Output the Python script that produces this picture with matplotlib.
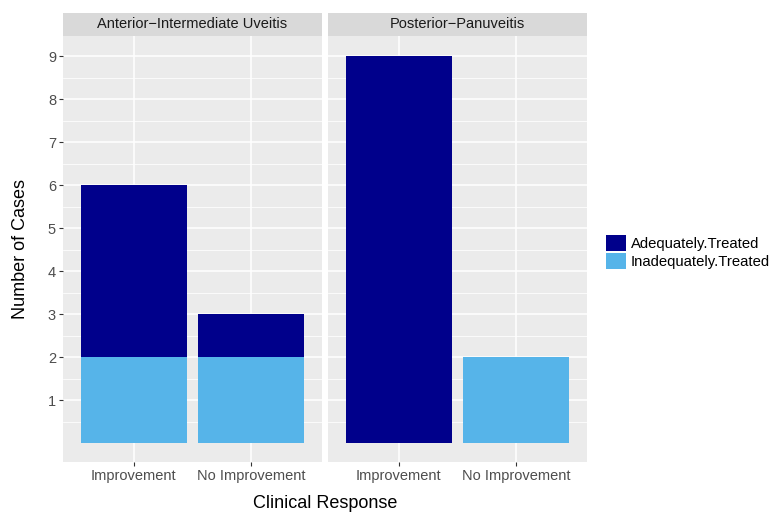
import matplotlib
matplotlib.use('Agg')
import matplotlib.pyplot as plt
from matplotlib.patches import Patch
import numpy as np

plt.rcParams['font.family'] = ['Liberation Sans', 'DejaVu Sans']

facets = ['Anterior\u2212Intermediate Uveitis', 'Posterior\u2212Panuveitis']
categories = ['Improvement', 'No Improvement']
adequately_treated = [[4, 1], [9, 0]]
inadequately_treated = [[2, 2], [0, 2]]
series_names = ['Adequately.Treated', 'Inadequately.Treated']
colors = ['#00008B', '#56B4E9']
y_ticks = [1, 2, 3, 4, 5, 6, 7, 8, 9]

W, H = 769, 513
fig = plt.figure(figsize=(W / 100, H / 100), dpi=100)


def px_box(x0, y0, x1, y1):
    # pixel box (top-left origin) -> figure fraction rect
    return [x0 / W, 1 - y1 / H, (x1 - x0) / W, (y1 - y0) / H]


panel_x = [(63, 322), (328, 587)]
x = np.arange(1, len(categories) + 1)

for i, facet in enumerate(facets):
    x0, x1 = panel_x[i]
    ax = fig.add_axes(px_box(x0, 36, x1, 462))
    ax.set_facecolor('#EBEBEB')
    ax.set_xlim(0.4, 2.6)
    ax.set_ylim(-0.44, 9.47)

    inad = np.array(inadequately_treated[i])
    adeq = np.array(adequately_treated[i])
    ax.bar(x, inad, width=0.9, color=colors[1], linewidth=0, zorder=3)
    ax.bar(x, adeq, width=0.9, bottom=inad, color=colors[0], linewidth=0, zorder=3)

    ax.set_xticks(x)
    ax.set_xticklabels(categories)
    ax.set_yticks(y_ticks)
    ax.set_yticks(np.arange(0.5, 9.5, 1.0), minor=True)
    ax.grid(True, which='major', color='white', linewidth=1.1, zorder=0)
    ax.grid(True, which='minor', axis='y', color='white', linewidth=0.55, zorder=0)
    ax.set_axisbelow(True)
    for s in ax.spines.values():
        s.set_visible(False)
    ax.tick_params(axis='both', which='major', length=3, width=0.8, color='#333333',
                   labelsize=10.5, labelcolor='#4D4D4D', pad=2)
    ax.tick_params(axis='x', which='minor', length=0)
    ax.tick_params(axis='y', which='minor', length=0)
    if i > 0:
        ax.tick_params(axis='y', which='major', left=False, labelleft=False)

    # facet strip
    sax = fig.add_axes(px_box(x0, 13, x1, 36))
    sax.set_facecolor('#D9D9D9')
    sax.set_xticks([])
    sax.set_yticks([])
    for s in sax.spines.values():
        s.set_visible(False)
    sax.text(0.5, 0.5, facet, ha='center', va='center', fontsize=10.5,
             color='#1A1A1A', transform=sax.transAxes)

fig.text(325 / W, 1 - 503 / H, 'Clinical Response', ha='center', va='center', fontsize=13)
fig.text(21 / W, 1 - 249 / H, 'Number of Cases', ha='center', va='center',
         rotation=90, fontsize=13)

handles = [Patch(facecolor=c, edgecolor='none') for c in colors]
fig.legend(handles, series_names, loc='center left', bbox_to_anchor=(596 / W, 1 - 252 / H),
           frameon=False, fontsize=10.7, handlelength=1.3, handleheight=1.3,
           handletextpad=0.35, labelspacing=0.1, borderpad=0.2)

fig.savefig('out.png', dpi=100)
